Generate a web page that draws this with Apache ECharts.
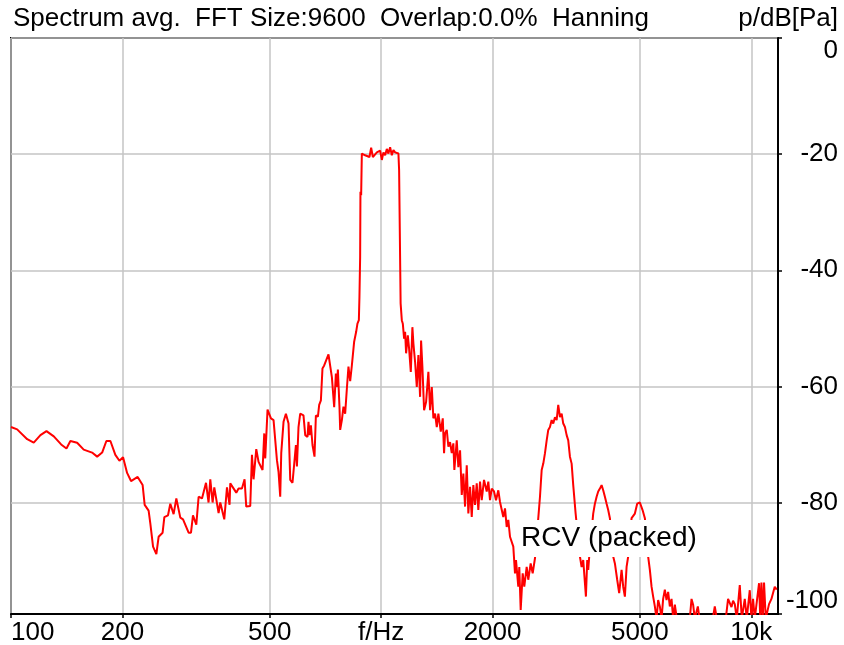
<!DOCTYPE html>
<html>
<head>
<meta charset="utf-8">
<script src="https://cdn.jsdelivr.net/npm/echarts@6/dist/echarts.min.js"></script>
<style>
html,body{margin:0;padding:0;background:#fff;}
#chart{width:844px;height:645px;}
</style>
</head>
<body>
<div id="chart"></div>
<script>
// ---- data (frequency in Hz, level in dB re Pa) ----
const freqHz = [
100,103.9,110.6,115.2,120.1,124.7,130.5,136.6,141.2,144.7,150.9,157.2,165.6,170.9,176.3,181.0,185.6,191.4,196.3,200.8,
205.9,211.0,219.9,226.8,229.7,235.4,237.9,242.0,247.0,250.5,256.8,259.6,265.6,269.4,275.0,279.7,286.7,291.6,301.9,306.4,
310.2,316.7,321.3,328.1,336.4,341.8,345.5,350.5,354.2,363.8,367.6,376.9,383.3,389.5,391.2,406.1,411.9,420.7,427.6,432.1,
443.0,447.7,452.2,459.9,466.5,478.2,483.3,486.3,493.3,503.9,512.1,523.0,528.2,533.8,537.2,544.9,553.0,562.1,568.1,576.2,
588.5,592.2,598.1,604.5,616.9,623.6,632.5,636.5,640.4,646.0,652.5,660.7,666.4,674.8,680.2,687.5,694.3,701.7,720.7,728.4,
736.1,746.7,754.6,759.3,764.1,771.7,775.1,783.3,791.1,799.5,808.0,816.1,824.8,833.5,845.5,856.1,863.0,870.6,873.8,877.6,
879.3,883.1,886.9,892.4,905.3,915.0,929.9,939.8,949.8,959.3,973.7,983.4,993.8,1004.4,1014.4,1025.2,1036.0,1046.4,1057.5,1068.8,
1079.5,1091.0,1102.5,1113.6,1118.4,1125.4,1128.9,1137.3,1144.4,1153.7,1160.9,1168.1,1180.5,1190.1,1202.7,1214.7,1222.3,1235.3,1248.4,1260.9,
1274.3,1282.2,1292.6,1306.4,1322.7,1341.7,1356.0,1370.4,1384.0,1398.7,1413.7,1427.8,1449.2,1467.3,1479.2,1488.4,1504.3,1519.3,1535.4,1551.7,
1567.2,1577.0,1600.7,1616.7,1634.0,1651.3,1667.8,1685.5,1703.4,1720.5,1738.8,1757.2,1774.8,1793.5,1812.5,1830.6,1850.1,1869.7,1896.6,1928.7,
1948.0,1968.7,1989.7,2018.3,2043.6,2073.0,2095.0,2117.3,2138.5,2161.2,2184.1,2206.0,2229.4,2275.6,2299.7,2314.1,2347.3,2362.0,2382.6,2412.4,
2436.5,2473.1,2497.8,2535.4,2567.2,2604.2,2658.1,2686.4,2714.9,2742.1,2771.3,2800.7,2828.5,2858.5,2888.8,2917.7,2948.7,2980.0,3009.8,3041.8,
3074.1,3104.9,3137.8,3171.1,3202.8,3236.8,3271.2,3303.9,3353.6,3444.4,3481.0,3515.8,3575.3,3604.3,3626.7,3649.3,3741.0,3780.7,3820.9,3859.0,
3900.1,3941.5,3981.1,4023.4,4066.2,4106.8,4150.4,4236.4,4281.4,4343.0,4397.3,4463.4,4508.0,4555.8,4604.2,4650.3,4749.6,4848.0,4917.8,5001.0,
5085.6,5158.8,5265.7,5321.7,5378.2,5432.0,5489.7,5548.0,5603.4,5662.9,5723.1,5780.2,5841.6,5903.7,5962.7,6026.1,6090.2,6151.1,6216.4,6293.9,
6823.6,6896.1,6965.1,7038.8,7171.8,7247.9,7872.1,7970.4,8070.1,8534.1,8657.0,8749.0,8842.2,8930.6,9025.6,9138.4,9310.5,9427.0,9604.4,9724.4,
9907.2,10011.5,10112.5,10220.0,10496.6,10575.1,10654.3,10740.7,10827.8,10942.9,11079.5,11169.7,11337.5,11450.9,11572.6,11717.3
];
const levelDb = [
-67.0,-67.4,-69.1,-69.7,-68.4,-67.7,-68.6,-70.0,-70.7,-69.4,-69.7,-70.9,-71.4,-72.1,-71.4,-69.4,-69.4,-71.8,-72.8,-72.2,
-74.9,-76.3,-75.6,-77.0,-80.4,-81.4,-83.6,-87.6,-88.9,-85.9,-85.2,-82.5,-82.2,-80.2,-82.0,-79.3,-82.6,-82.9,-85.2,-85.2,
-82.2,-83.8,-79.0,-79.3,-76.6,-80.0,-76.0,-80.0,-77.4,-81.8,-80.0,-82.9,-77.4,-80.4,-76.7,-78.3,-77.6,-77.6,-76.0,-80.7,
-80.6,-71.8,-76.0,-70.8,-73.0,-74.4,-68.1,-72.4,-64.0,-65.5,-65.8,-72.7,-74.7,-79.0,-71.5,-66.1,-64.7,-66.4,-76.1,-76.6,
-70.1,-73.8,-67.0,-64.7,-65.0,-68.4,-68.7,-66.1,-68.4,-66.7,-70.1,-72.1,-65.0,-65.2,-63.2,-62.4,-56.9,-56.4,-54.5,-54.8,
-58.4,-63.6,-57.8,-60.1,-57.1,-63.5,-67.5,-65.8,-63.5,-64.7,-60.4,-56.6,-59.1,-56.4,-52.3,-50.6,-49.2,-48.6,-44.6,-37.7,
-26.5,-27.1,-19.9,-19.8,-20.2,-19.9,-20.5,-18.9,-20.5,-20.8,-19.7,-19.9,-19.4,-21.0,-19.7,-20.2,-19.1,-19.9,-18.8,-20.2,
-19.3,-19.7,-19.5,-19.9,-22.8,-23.1,-45.7,-48.6,-49.2,-51.8,-50.6,-54.3,-51.2,-53.5,-57.5,-49.8,-52.6,-55.8,-60.1,-54.6,
-61.8,-52.1,-56.6,-64.1,-62.7,-57.5,-64.1,-60.1,-65.5,-64.7,-67.0,-64.7,-67.8,-65.5,-71.5,-68.1,-67.5,-70.4,-69.6,-71.5,
-69.8,-74.4,-69.3,-73.9,-71.0,-78.7,-75.0,-80.7,-73.6,-81.9,-77.3,-82.5,-77.0,-80.4,-76.7,-81.3,-76.4,-79.6,-76.1,-78.1,
-76.4,-79.6,-77.6,-78.1,-79.6,-77.9,-79.9,-79.6,-82.5,-81.0,-84.2,-83.0,-85.9,-87.6,-92.2,-89.9,-94.5,-91.1,-98.5,-92.2,
-94.5,-91.1,-93.3,-90.5,-92.2,-89.6,-82.7,-79.0,-74.4,-73.3,-71.5,-69.3,-67.5,-67.0,-65.8,-66.4,-65.3,-65.8,-63.2,-65.3,
-64.7,-66.4,-67.0,-68.4,-69.3,-72.1,-73.3,-77.0,-81.9,-89.3,-91.1,-89.9,-96.2,-89.9,-91.6,-89.3,-81.9,-80.2,-79.0,-78.1,
-77.6,-77.0,-77.9,-79.0,-80.2,-81.3,-82.7,-89.3,-90.5,-93.3,-95.6,-91.6,-94.5,-96.2,-91.1,-89.3,-82.7,-81.9,-80.2,-80.0,
-81.3,-82.7,-89.3,-91.6,-94.5,-96.2,-97.9,-100,-96.8,-97.9,-100,-96.6,-95.0,-96.8,-95.4,-97.9,-96.6,-100,-97.6,-100,
-100,-96.6,-97.6,-100,-97.9,-100,-100,-97.9,-100,-100,-96.6,-96.8,-98.0,-96.9,-97.5,-100,-94.2,-100,-96.6,-100,
-95.1,-100,-96.6,-100,-93.9,-100,-93.8,-100,-93.8,-100,-100,-97.5,-96.6,-96.5,-94.5,-95.0
];
const seriesName = 'RCV (packed)';
const xTickValues = [100, 200, 500, 1000, 2000, 5000, 10000];
const xTickLabels = ['100', '200', '500', 'f/Hz', '2000', '5000', '10k'];
const yTickLabels = {'0': '0', '-20': '-20', '-40': '-40', '-60': '-60', '-80': '-80', 'min': '-100'};
const xMinHz = 100, xMaxHz = 11810;
const yMinDb = -99.2, yMaxDb = 0;
const titleText = 'Spectrum avg.  FFT Size:9600  Overlap:0.0%  Hanning';
const unitText = 'p/dB[Pa]';

const FONT = "'Liberation Sans Narrow', 'Arial Narrow', 'Liberation Sans', Arial, sans-serif";
const FS = 26;

const lg = Math.log10;
const data = freqHz.map((f, i) => [lg(f), levelDb[i]]);
const tickPos = xTickValues.map(v => lg(v));

const chart = echarts.init(document.getElementById('chart'), null, {renderer: 'canvas'});
chart.setOption({
  animation: false,
  backgroundColor: '#fff',
  title: [
    {text: titleText, left: 13, top: 6, padding: 0,
     textStyle: {fontFamily: FONT, fontSize: FS, fontWeight: 'normal', color: '#000'}},
    {text: unitText, right: 6, top: 6, padding: 0,
     textStyle: {fontFamily: FONT, fontSize: FS, fontWeight: 'normal', color: '#000'}}
  ],
  legend: {
    data: [seriesName], left: 516, top: 520, orient: 'horizontal',
    icon: 'none', itemWidth: 0, itemHeight: 0, selectedMode: false,
    backgroundColor: '#fff', padding: [4, 5, 4, 0],
    textStyle: {fontFamily: FONT, fontSize: 28, color: '#000', lineHeight: 29}
  },
  grid: {
    left: 11, right: 66, top: 38, bottom: 31, containLabel: false, outerBoundsMode: 'none',
    show: true, borderColor: '#000', borderWidth: 2, backgroundColor: 'transparent'
  },
  xAxis: {
    type: 'value', min: lg(xMinHz), max: lg(xMaxHz),
    axisLine: {show: true, onZero: false, lineStyle: {color: '#000', width: 2}},
    axisTick: {show: true, customValues: tickPos, length: 4, inside: false, lineStyle: {color: '#000', width: 1.5}},
    splitLine: {show: true, lineStyle: {color: '#c4c4c4', width: 1.5}},
    axisLabel: {
      customValues: tickPos, margin: 6, alignMinLabel: 'left',
      fontFamily: FONT, fontSize: FS, color: '#000', verticalAlign: 'top',
      formatter: function (v) {
        let best = 0, d = 1e9;
        tickPos.forEach((p, i) => { if (Math.abs(p - v) < d) { d = Math.abs(p - v); best = i; } });
        return xTickLabels[best];
      }
    }
  },
  yAxis: {
    type: 'value', position: 'right', min: yMinDb, max: yMaxDb, splitNumber: 5,
    axisLine: {show: true, lineStyle: {color: '#000', width: 2}},
    axisTick: {show: true, length: 4, inside: false, lineStyle: {color: '#000', width: 1.5}},
    splitLine: {show: true, lineStyle: {color: '#c4c4c4', width: 1.5}},
    axisLabel: {
      margin: 60, align: 'right', fontFamily: FONT, fontSize: FS, color: '#000',
      verticalAlignMinLabel: 'bottom', verticalAlignMaxLabel: 'top',
      formatter: function (v) {
        if (v <= yMinDb + 0.01) return yTickLabels['min'];
        const k = String(Math.round(v));
        return yTickLabels[k] !== undefined ? yTickLabels[k] : k;
      }
    }
  },
  series: [{
    name: seriesName, type: 'line', data: data, showSymbol: false, symbol: 'none',
    clip: true, z: 3,
    lineStyle: {color: '#ff0000', width: 2}, itemStyle: {color: '#ff0000'}
  }]
});
</script>
</body>
</html>
